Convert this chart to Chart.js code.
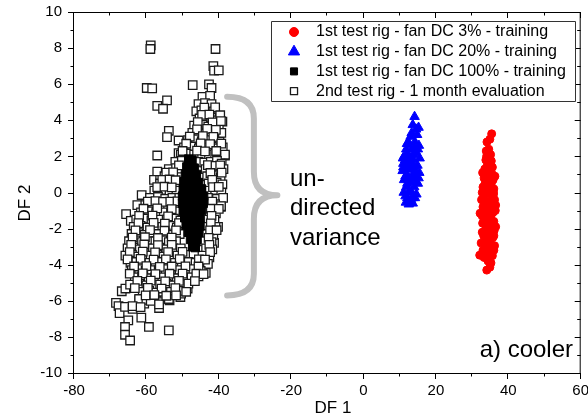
<!DOCTYPE html>
<html>
<head>
<meta charset="utf-8">
<script src="https://cdn.jsdelivr.net/npm/chart.js@4.4.1/dist/chart.umd.min.js"></script>
<style>
  html, body { margin: 0; padding: 0; background: #fff; }
</style>
</head>
<body>
<canvas id="dfChart" width="588" height="418"></canvas>
<script>
// series labels (legend order)
const seriesLabels = [
    '1st test rig - fan DC 3% - training',
    '1st test rig - fan DC 20% - training',
    '1st test rig - fan DC 100% - training',
    '2nd test rig - 1 month evaluation'
];

// [DF1, DF2]
const dc3Points = [
    [35.4, 3.25], [34.9, 2.95], [34.1, 2.8], [34.6, 2.4], [33.9, 2.3], [35.1, 2.1], [33.8, 1.8],
    [34.9, 1.6], [35.3, 1.75], [34.2, 1.5], [33.5, 1.3], [34.6, 1.2], [35.6, 1.0], [33.3, 0.8],
    [35.8, 0.7], [34.2, 0.6], [35.3, 0.5], [33.0, 0.3], [36.0, 0.2], [32.8, 0.0], [34.0, 0.05],
    [35.0, -0.1], [33.2, -0.3], [36.2, -0.4], [34.3, -0.5], [35.5, -0.7], [33.0, -0.8], [34.6, -0.9],
    [36.4, -1.0], [32.2, -1.15], [33.6, -1.2], [35.2, -1.3], [34.1, -1.5], [36.0, -1.6], [32.9, -1.7],
    [35.0, -1.8], [33.8, -2.0], [36.1, -2.1], [34.8, -2.3], [33.2, -2.4], [35.7, -2.5], [34.2, -2.7],
    [32.5, -2.8], [35.2, -2.9], [36.2, -2.95], [33.6, -3.1], [34.6, -3.3], [32.1, -3.47], [35.6, -3.5],
    [33.3, -3.6], [34.9, -4.14], [34.05, -4.3], [36.3, 0.9], [32.9, 1.1], [36.5, -1.9],
    [34.0, 2.0], [35.6, 1.4], [33.6, 0.5], [34.8, 0.3], [35.9, -0.1], [33.5, -0.6], [35.0, -0.5],
    [34.0, -1.0], [35.8, -1.1], [32.8, -1.3], [34.7, -1.6], [33.4, -1.5], [35.5, -2.0], [34.3, -2.2],
    [32.8, -2.2], [35.0, -2.6], [33.8, -2.5], [36.0, -2.4], [34.0, -3.0], [35.1, -3.1], [33.9, -3.4],
    [34.4, -3.8], [35.2, -3.9], [33.0, -3.2], [36.0, -3.2], [34.7, 0.8], [33.8, 1.0], [35.9, 0.0],
    [32.6, -0.4], [36.5, -0.7]
];

const dc20Points = [
    [14.1, 4.2], [15.2, 3.6], [13.6, 3.75], [14.8, 3.2], [13.0, 3.1], [12.4, 2.8], [14.2, 2.8],
    [15.3, 2.6], [11.8, 2.4], [13.3, 2.4], [14.0, 2.5], [14.6, 2.2], [11.2, 2.0], [12.6, 2.0],
    [15.5, 1.9], [10.9, 1.9], [13.8, 1.8], [12.9, 1.7], [11.0, 1.6], [12.2, 1.5], [14.9, 1.5],
    [13.2, 1.3], [11.6, 1.3], [10.8, 1.2], [15.4, 1.1], [13.9, 1.1], [12.0, 1.0], [14.2, 0.9],
    [11.2, 0.7], [12.5, 0.7], [13.1, 0.6], [15.0, 0.5], [11.8, 0.3], [14.0, 0.3], [12.7, 0.1],
    [11.1, 0.0], [14.6, -0.1], [12.1, -0.3], [13.6, -0.3], [11.7, -0.55], [12.5, -0.65], [13.6, -0.6],
    [13.3, 3.3], [14.5, 3.5], [12.0, 2.7], [13.7, 2.1], [15.0, 2.4], [11.5, 1.8], [12.5, 1.3],
    [14.4, 1.2], [15.2, 0.8], [11.6, 0.9], [13.5, 0.8], [12.1, 0.5], [14.6, 0.6], [13.3, 0.0],
    [11.6, -0.2], [13.1, -0.4], [14.2, -0.3], [12.0, 2.1], [13.8, 1.5], [11.0, 1.4]
];

const dc100Points = [
    [-48.3, 1.85], [-47.4, 1.8], [-48.8, 1.4], [-47.8, 1.45], [-46.8, 1.35],
    [-49.2, 1.0], [-48.2, 1.05], [-47.2, 0.95], [-46.2, 1.0],
    [-49.6, 0.6], [-48.6, 0.55], [-47.6, 0.65], [-46.6, 0.6], [-45.6, 0.55],
    [-49.8, 0.2], [-48.8, 0.15], [-47.8, 0.25], [-46.8, 0.2], [-45.8, 0.15], [-44.8, 0.2],
    [-50.0, -0.2], [-49.0, -0.25], [-48.0, -0.15], [-47.0, -0.2], [-46.0, -0.25], [-45.0, -0.2], [-44.2, -0.2],
    [-50.0, -0.6], [-49.0, -0.6], [-48.0, -0.65], [-47.0, -0.55], [-46.0, -0.6], [-45.0, -0.65], [-44.3, -0.6],
    [-49.8, -1.0], [-48.8, -1.05], [-47.8, -0.95], [-46.8, -1.0], [-45.8, -1.05], [-44.8, -1.0],
    [-49.4, -1.4], [-48.4, -1.45], [-47.4, -1.35], [-46.4, -1.4], [-45.4, -1.4],
    [-49.0, -1.8], [-48.0, -1.85], [-47.0, -1.75], [-46.0, -1.8], [-45.2, -1.85],
    [-48.4, -2.2], [-47.4, -2.25], [-46.4, -2.15], [-45.6, -2.2],
    [-47.8, -2.6], [-46.8, -2.65], [-46.0, -2.6],
    [-47.2, -3.0], [-46.5, -3.05]
];

const evalPoints = [
    // sparse outliers
    [-58.8, 8.15], [-58.9, 7.95], [-40.9, 7.95], [-41.5, 7.0], [-41.3, 6.75], [-40.0, 6.77],
    [-59.9, 5.79], [-58.4, 5.77], [-47.2, 5.95], [-42.7, 5.99], [-42.0, 5.79], [-57.0, 4.8],
    [-54.3, 5.1], [-55.4, 4.64], [-53.8, 3.42], [-54.3, 3.07], [-51.1, 2.88], [-57.0, 2.05],
    [-51.1, 2.18], [-38.3, 2.05], [-57.0, 1.16], [-57.9, 0.7], [-56.2, 0.7], [-61.3, -0.14],
    [-62.5, -0.7], [-56.5, -0.42], [-65.6, -1.2], [-64.3, -1.57],
    [-68.4, -6.12], [-67.7, -6.3], [-67.4, -6.68], [-66.8, -5.47], [-65.8, -5.32], [-65.9, -6.34],
    [-63.8, -6.45], [-65.0, -7.08], [-65.9, -7.45], [-65.9, -7.88], [-64.5, -8.2], [-61.4, -6.93],
    [-59.3, -7.45], [-53.8, -7.64], [-62.0, -5.97], [-60.6, -6.16], [-58.8, -5.79], [-56.5, -6.07],
    [-56.5, -6.4], [-53.6, -5.97], [-50.6, -5.79], [-50.4, -5.6], [-48.6, -5.32], [-43.6, -4.45],
    [-44.5, -4.06], [-42.6, -3.6], [-41.3, -2.79], [-40.2, -1.9], [-39.4, -0.79],
    // main cloud
    [-44.5, 5.3], [-42.4, 5.35], [-45.6, 4.9], [-43.8, 4.95], [-42.0, 4.9],
    [-46.2, 4.5], [-44.8, 4.55], [-43.2, 4.45], [-41.5, 4.5], [-40.2, 4.25],
    [-45.3, 4.1], [-43.9, 4.05], [-42.1, 4.15], [-40.8, 4.0], [-39.0, 3.93],
    [-46.8, 3.7], [-44.5, 3.75], [-42.9, 3.65], [-41.3, 3.7], [-40.0, 3.6],
    [-47.3, 3.3], [-45.6, 3.35], [-43.8, 3.25], [-42.0, 3.3], [-40.6, 3.2], [-39.3, 3.3],
    [-48.5, 2.9], [-46.3, 2.95], [-44.7, 2.85], [-43.0, 2.9], [-41.2, 2.95], [-39.8, 2.8],
    [-49.6, 2.5], [-47.6, 2.55], [-45.5, 2.45], [-43.6, 2.5], [-41.9, 2.55], [-40.3, 2.45], [-38.9, 2.5],
    [-50.5, 2.1], [-48.9, 2.15], [-46.8, 2.1], [-44.6, 2.05], [-42.7, 2.1], [-41.0, 2.15], [-39.6, 2.0], [-38.3, 2.1],
    [-52.0, 1.7], [-50.2, 1.75], [-45.6, 1.7], [-44.0, 1.65], [-42.2, 1.7], [-40.5, 1.75], [-39.2, 1.6],
    [-53.8, 1.3], [-51.8, 1.35], [-50.3, 1.25], [-43.6, 1.3], [-41.6, 1.35], [-40.0, 1.2], [-38.7, 1.3],
    [-55.0, 0.9], [-53.0, 0.95], [-51.2, 0.85], [-43.2, 0.9], [-41.1, 0.95], [-39.5, 0.85],
    [-56.2, 0.5], [-54.3, 0.55], [-52.4, 0.45], [-50.8, 0.5], [-42.8, 0.5], [-40.6, 0.55], [-39.0, 0.45],
    [-57.8, 0.1], [-55.7, 0.15], [-53.6, 0.05], [-51.7, 0.1], [-42.5, 0.1], [-41.0, 0.15], [-39.3, 0.0],
    [-59.0, -0.3], [-56.8, -0.25], [-54.8, -0.35], [-52.8, -0.3], [-50.9, -0.3], [-43.0, -0.3], [-40.5, -0.35], [-38.8, -0.3],
    [-60.3, -0.7], [-58.2, -0.65], [-56.0, -0.75], [-54.0, -0.7], [-52.0, -0.7], [-42.6, -0.7], [-41.0, -0.65], [-39.4, -0.75],
    [-61.5, -1.1], [-59.5, -1.05], [-57.3, -1.15], [-55.2, -1.1], [-53.2, -1.1], [-51.3, -1.05], [-43.2, -1.1], [-40.8, -1.15],
    [-62.8, -1.5], [-60.7, -1.45], [-58.6, -1.55], [-56.5, -1.5], [-54.4, -1.5], [-52.4, -1.45], [-50.6, -1.55], [-42.8, -1.5], [-41.2, -1.5],
    [-63.5, -1.9], [-61.6, -1.85], [-59.7, -1.95], [-57.7, -1.9], [-55.6, -1.9], [-53.5, -1.85], [-51.6, -1.95], [-43.5, -1.9], [-40.9, -1.9],
    [-64.1, -2.3], [-62.2, -2.25], [-60.5, -2.35], [-58.6, -2.3], [-56.6, -2.3], [-54.7, -2.25], [-52.7, -2.35], [-50.8, -2.3], [-43.2, -2.3], [-41.5, -2.35],
    [-64.8, -2.7], [-63.0, -2.65], [-61.2, -2.75], [-59.4, -2.7], [-57.5, -2.7], [-55.6, -2.65], [-53.8, -2.75], [-51.8, -2.7], [-44.0, -2.7], [-42.0, -2.75],
    [-65.2, -3.1], [-63.6, -3.05], [-61.8, -3.15], [-60.0, -3.1], [-58.2, -3.1], [-56.4, -3.05], [-54.5, -3.15], [-52.6, -3.1], [-50.5, -3.1], [-43.5, -3.1], [-41.8, -3.15],
    [-65.8, -3.5], [-64.0, -3.45], [-62.3, -3.55], [-60.5, -3.5], [-58.8, -3.5], [-57.0, -3.45], [-55.2, -3.55], [-53.3, -3.5], [-51.4, -3.5], [-49.3, -3.45], [-44.5, -3.5],
    [-64.4, -3.9], [-62.8, -3.85], [-61.0, -3.95], [-59.2, -3.9], [-57.5, -3.9], [-55.8, -3.85], [-54.0, -3.95], [-52.1, -3.9], [-50.2, -3.9], [-48.3, -3.85], [-46.4, -3.9], [-43.0, -3.95],
    [-64.0, -4.3], [-62.0, -4.25], [-60.2, -4.35], [-58.5, -4.3], [-56.6, -4.3], [-54.7, -4.25], [-52.8, -4.35], [-50.8, -4.3], [-48.9, -4.3], [-47.0, -4.25], [-45.0, -4.35],
    [-63.2, -4.7], [-61.2, -4.65], [-59.4, -4.75], [-57.6, -4.7], [-55.6, -4.7], [-53.6, -4.65], [-51.6, -4.75], [-49.6, -4.7], [-47.5, -4.7], [-45.6, -4.65],
    [-64.5, -5.1], [-62.0, -5.05], [-60.0, -5.15], [-58.2, -5.1], [-56.2, -5.1], [-54.4, -5.05], [-52.5, -5.15], [-50.4, -5.1], [-48.4, -5.05],
    [-61.0, -5.5], [-59.2, -5.45], [-57.3, -5.55], [-55.4, -5.5], [-53.2, -5.5], [-51.0, -5.45], [-49.0, -5.5],
    [-62.0, -5.9], [-60.0, -5.95], [-58.8, -6.0], [-53.8, -5.9], [-63.8, -6.3], [-61.6, -6.35], [-56.5, -6.2],
    // in-between squares
    [-44.0, 4.7], [-41.0, 4.72], [-44.6, 4.3], [-42.6, 4.32], [-39.6, 4.28],
    [-45.8, 3.9], [-41.7, 3.88], [-39.4, 3.95], [-46.0, 3.5], [-43.2, 3.52], [-40.8, 3.47],
    [-48.0, 3.1], [-44.4, 3.12], [-41.5, 3.08], [-49.0, 2.7], [-45.0, 2.72], [-42.4, 2.68], [-39.3, 2.71],
    [-50.0, 2.3], [-46.0, 2.32], [-43.8, 2.28], [-40.7, 2.3], [-51.0, 1.5], [-43.0, 1.52], [-40.9, 1.48], [-39.6, 1.5],
    [-54.5, 1.1], [-52.6, 1.12], [-42.3, 1.08], [-39.2, 1.1], [-55.6, 0.7], [-53.6, 0.72], [-51.9, 0.68], [-41.8, 0.7],
    [-57.0, 0.3], [-55.0, 0.32], [-53.0, 0.28], [-41.6, 0.3], [-40.0, 0.31],
    [-59.6, -0.5], [-57.5, -0.48], [-55.4, -0.52], [-53.4, -0.5], [-51.4, -0.49], [-41.8, -0.5],
    [-60.8, -0.9], [-57.0, -0.88], [-53.0, -0.92], [-42.2, -0.9], [-40.0, -0.91],
    [-62.0, -1.3], [-58.3, -1.28], [-54.0, -1.32], [-42.0, -1.3],
    [-62.2, -1.7], [-58.0, -1.68], [-54.9, -1.72], [-51.0, -1.7], [-42.2, -1.71],
    [-63.0, -2.1], [-59.0, -2.08], [-55.0, -2.12], [-51.8, -2.1], [-42.4, -2.1], [-40.6, -2.09],
    [-63.8, -2.5], [-60.4, -2.48], [-56.8, -2.52], [-53.0, -2.5], [-42.8, -2.51],
    [-64.2, -2.9], [-60.6, -2.88], [-56.8, -2.92], [-53.0, -2.9], [-42.6, -2.9],
    [-64.6, -3.3], [-61.0, -3.28], [-57.6, -3.32], [-54.0, -3.3], [-50.0, -3.29], [-42.4, -3.3],
    [-65.2, -3.7], [-61.6, -3.68], [-58.0, -3.72], [-54.6, -3.7], [-50.8, -3.69], [-45.5, -3.7], [-43.8, -3.72],
    [-63.4, -4.1], [-60.0, -4.08], [-56.3, -4.12], [-53.0, -4.1], [-49.2, -4.09], [-45.6, -4.1],
    [-64.6, -4.5], [-61.0, -4.48], [-57.5, -4.52], [-53.6, -4.5], [-50.0, -4.49], [-46.2, -4.5], [-44.2, -4.52],
    [-62.5, -4.9], [-58.8, -4.88], [-54.8, -4.92], [-51.0, -4.9], [-46.6, -4.91],
    [-63.2, -5.3], [-59.6, -5.28], [-55.8, -5.32], [-52.0, -5.3],
    [-60.2, -5.7], [-57.8, -5.68], [-54.5, -5.72], [-51.8, -5.7]
];

// brace annotation, in data units
const braceTop = 5.3, braceBottom = -5.7, braceMid = -0.15;
const braceEndX = -37.7, braceSpineX = -30.3, braceTipX = -23.8;

const toXY = pts => pts.map(p => ({ x: p[0], y: p[1] }));
const FONT = "'Liberation Sans', Arial, sans-serif";

const dsStyles = [
    { pointStyle: 'circle', radius: 4, bg: '#ff0000', border: '#ff0000', bw: 1 },
    { pointStyle: 'triangle', radius: 5.5, bg: '#0000ff', border: '#0000ff', bw: 1 },
    { pointStyle: 'rect', radius: 6, bg: '#000000', border: '#000000', bw: 1 },
    { pointStyle: 'rect', radius: 6, bg: '#ffffff', border: '#1a1a1a', bw: 1.3 }
];

const allPoints = [dc3Points, dc20Points, dc100Points, evalPoints];

const datasets = allPoints.map((pts, i) => ({
    label: seriesLabels[i],
    data: toXY(pts),
    pointStyle: dsStyles[i].pointStyle,
    pointRadius: dsStyles[i].radius,
    pointBackgroundColor: dsStyles[i].bg,
    pointBorderColor: dsStyles[i].border,
    pointBorderWidth: dsStyles[i].bw,
    showLine: false
}));

const decor = {
    id: 'decor',
    afterDatasetsDraw(chart) {
        const { ctx, chartArea: a, scales } = chart;
        const xs = scales.x, ys = scales.y;
        ctx.save();

        // brace
        const X = v => xs.getPixelForValue(v), Y = v => ys.getPixelForValue(v);
        ctx.strokeStyle = '#c0c0c0';
        ctx.lineWidth = 6;
        ctx.lineCap = 'round';
        ctx.lineJoin = 'round';
        ctx.beginPath();
        ctx.moveTo(X(braceEndX), Y(braceTop));
        ctx.quadraticCurveTo(X(braceSpineX), Y(braceTop), X(braceSpineX), Y(braceTop - 1.2));
        ctx.lineTo(X(braceSpineX), Y(braceMid + 1.3));
        ctx.quadraticCurveTo(X(braceSpineX), Y(braceMid), X(braceTipX), Y(braceMid));
        ctx.quadraticCurveTo(X(braceSpineX), Y(braceMid), X(braceSpineX), Y(braceMid - 1.3));
        ctx.lineTo(X(braceSpineX), Y(braceBottom + 1.2));
        ctx.quadraticCurveTo(X(braceSpineX), Y(braceBottom), X(braceEndX), Y(braceBottom));
        ctx.stroke();

        // frame + ticks
        ctx.strokeStyle = '#000';
        ctx.lineWidth = 1;
        ctx.lineCap = 'butt';
        ctx.strokeRect(a.left - 0.5, a.top + 0.5, a.right - a.left, a.bottom - a.top);
        ctx.beginPath();
        for (let v = -80; v <= 60; v += 10) {
            const px = Math.round(X(v)) - 0.5;
            const len = v % 20 === 0 ? 6 : 3.5;
            ctx.moveTo(px, a.bottom);
            ctx.lineTo(px, a.bottom + len);
            ctx.moveTo(px, a.top);
            ctx.lineTo(px, a.top + len);
        }
        for (let v = -10; v <= 10; v += 1) {
            const py = Math.round(Y(v)) + 0.5;
            const len = v % 2 === 0 ? 6 : 3.5;
            ctx.moveTo(a.left - len, py);
            ctx.lineTo(a.left, py);
            ctx.moveTo(a.right - len, py);
            ctx.lineTo(a.right, py);
        }
        ctx.stroke();

        // annotations
        ctx.fillStyle = '#000';
        ctx.font = '24px ' + FONT;
        ctx.textBaseline = 'alphabetic';
        ctx.textAlign = 'left';
        ctx.fillText('un-', 290, 186);
        ctx.fillText('directed', 290, 215);
        ctx.fillText('variance', 290, 245);
        ctx.textAlign = 'right';
        ctx.fillText('a) cooler', 573, 357);

        // axis titles
        ctx.font = '17px ' + FONT;
        ctx.textAlign = 'center';
        ctx.textBaseline = 'middle';
        ctx.fillText('DF 1', 333, 408);
        ctx.save();
        ctx.translate(25, 203);
        ctx.rotate(-Math.PI / 2);
        ctx.fillText('DF 2', 0, 0);
        ctx.restore();

        // legend box
        ctx.fillStyle = '#fff';
        ctx.fillRect(271, 21, 304, 80);
        ctx.strokeStyle = '#333';
        ctx.lineWidth = 1;
        ctx.strokeRect(271.5, 21.5, 304, 80);
        ctx.font = '16px ' + FONT;
        ctx.textAlign = 'left';
        ctx.textBaseline = 'middle';
        seriesLabels.forEach((lab, i) => {
            const yy = 32 + i * 19.7;
            const st = dsStyles[i];
            ctx.fillStyle = st.bg;
            ctx.strokeStyle = st.border;
            ctx.lineWidth = st.bw;
            const r = i === 1 ? 6.5 : (i === 0 ? 4.5 : 5);
            Chart.helpers.drawPoint(ctx, { pointStyle: st.pointStyle, radius: r, rotation: 0, borderWidth: st.bw }, 294, yy);
            ctx.fillStyle = '#000';
            ctx.fillText(lab, 316, yy);
        });
        ctx.restore();
    }
};

let ctx = document.getElementById('dfChart').getContext('2d');

let chart = new Chart(ctx, {
    type: 'scatter',
    data: { datasets: datasets },
    options: {
        responsive: false,
        animation: false,
        events: [],
        layout: { padding: { top: 12, right: 1, left: 0, bottom: 0 } },
        plugins: {
            legend: { display: false },
            tooltip: { enabled: false }
        },
        scales: {
            x: {
                type: 'linear',
                min: -80,
                max: 60,
                ticks: { stepSize: 20, color: '#000', font: { family: FONT, size: 15 }, padding: 9, maxRotation: 0 },
                grid: { display: false, drawTicks: false },
                border: { display: false },
                afterFit(s) { s.height = 45; s.paddingLeft = 0; s.paddingRight = 0; }
            },
            y: {
                type: 'linear',
                min: -10,
                max: 10,
                ticks: { stepSize: 2, color: '#000', font: { family: FONT, size: 15 }, padding: 12 },
                grid: { display: false, drawTicks: false },
                border: { display: false },
                afterFit(s) { s.width = 74; s.paddingTop = 0; s.paddingBottom = 0; }
            }
        }
    },
    plugins: [decor]
});
</script>
</body>
</html>
